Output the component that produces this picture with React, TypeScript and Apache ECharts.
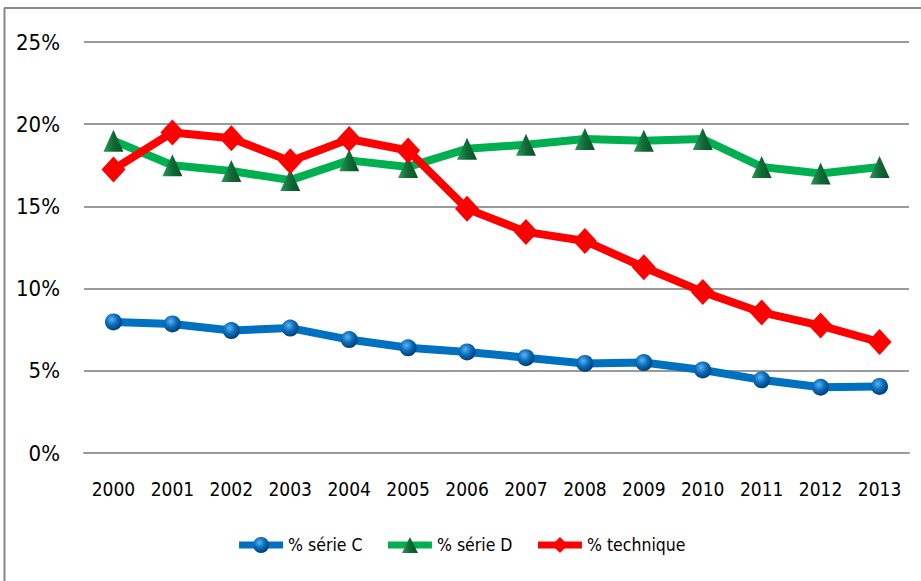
import React, { useEffect, useRef } from "react";
import * as echarts from "echarts";

const years = ["2000", "2001", "2002", "2003", "2004", "2005", "2006", "2007", "2008", "2009", "2010", "2011", "2012", "2013"];
const serieC = [7.97, 7.85, 7.45, 7.6, 6.9, 6.4, 6.15, 5.8, 5.45, 5.5, 5.05, 4.45, 4.0, 4.05];
const serieD = [19.0, 17.5, 17.15, 16.6, 17.8, 17.4, 18.5, 18.75, 19.1, 19.0, 19.1, 17.4, 17.0, 17.4];
const technique = [17.25, 19.5, 19.15, 17.75, 19.1, 18.4, 14.85, 13.45, 12.9, 11.3, 9.8, 8.55, 7.75, 6.75];
const seriesNames = ["% série C", "% série D", "% technique"];

const FONT = "'Liberation Sans Narrow', 'DejaVu Sans Condensed', sans-serif";

export default function App() {
  const ref = useRef<HTMLDivElement>(null);
  useEffect(() => {
    document.body.style.margin = "0";
    if (!ref.current) return;
    const chart = echarts.init(ref.current, undefined, { renderer: "svg" });
    const sphere = new echarts.graphic.RadialGradient(0.4, 0.35, 0.65, [
      { offset: 0, color: "#5fb4f0" },
      { offset: 0.5, color: "#0b6fbf" },
      { offset: 1, color: "#003f73" },
    ]);
    const tri = new echarts.graphic.LinearGradient(0, 0, 1, 0, [
      { offset: 0, color: "#2e9a5a" },
      { offset: 0.5, color: "#0f6b35" },
      { offset: 1, color: "#0a4f27" },
    ]);
    chart.setOption({
      animation: false,
      backgroundColor: "#ffffff",
      textStyle: { fontFamily: FONT },
      grid: { left: 84, right: 12, top: 42, bottom: 128, containLabel: false },
      legend: {
        bottom: 22,
        left: "center",
        itemWidth: 44,
        itemHeight: 20,
        itemGap: 22,
        lineStyle: { width: 7 },
        textStyle: { fontFamily: FONT, fontSize: 17.5, color: "#000" },
        data: seriesNames,
      },
      xAxis: {
        type: "category",
        data: years,
        boundaryGap: true,
        axisLine: { show: true, lineStyle: { color: "#9a9a9a", width: 2 } },
        axisTick: { show: false },
        axisLabel: { fontFamily: FONT, fontSize: 19, color: "#000", margin: 26, interval: 0 },
      },
      yAxis: {
        type: "value",
        min: 0,
        max: 25,
        interval: 5,
        axisLine: { show: false },
        axisTick: { show: false },
        axisLabel: { fontFamily: FONT, fontSize: 22, color: "#000", margin: 24, formatter: "{value}%" },
        splitLine: { show: true, lineStyle: { color: "#9a9a9a", width: 2 } },
      },
      series: [
        {
          name: seriesNames[0],
          type: "line",
          data: serieC,
          lineStyle: { color: "#0070C0", width: 8 },
          itemStyle: { color: sphere },
          symbol: "circle",
          symbolSize: 17,
          z: 3,
        },
        {
          name: seriesNames[1],
          type: "line",
          data: serieD,
          lineStyle: { color: "#00B050", width: 8 },
          itemStyle: { color: tri },
          symbol: "triangle",
          symbolSize: [20, 22],
          z: 2,
        },
        {
          name: seriesNames[2],
          type: "line",
          data: technique,
          lineStyle: { color: "#FF0000", width: 8 },
          itemStyle: { color: "#FF0000" },
          symbol: "diamond",
          symbolSize: [24, 26],
          z: 4,
        },
      ],
      graphic: [
        { type: "line", shape: { x1: 4, y1: 8, x2: 921, y2: 8 }, style: { stroke: "#888", lineWidth: 2 } },
        { type: "line", shape: { x1: 4.5, y1: 8, x2: 4.5, y2: 581 }, style: { stroke: "#888", lineWidth: 2 } },
      ],
    });
    return () => chart.dispose();
  }, []);
  return <div ref={ref} style={{ width: 921, height: 581 }} />;
}
